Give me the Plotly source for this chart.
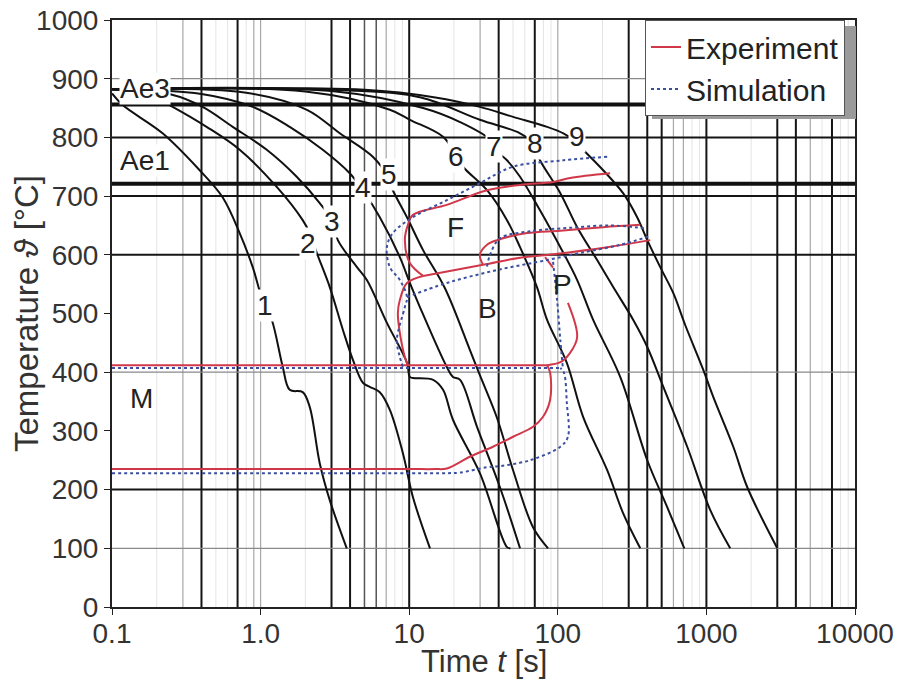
import numpy as np
import plotly.graph_objects as go

# ---------------- data (time in s, temperature in °C) ----------------
c1_t = [0.1, 0.118, 0.219, 0.389, 0.555, 0.723, 0.885, 1.03, 1.19, 1.41, 1.57, 1.92, 2.14, 2.50, 2.92, 3.80]
c1_T = [875, 855, 807, 744, 698, 637, 579, 523, 489, 409, 370, 366, 341, 245, 182, 100]
c2_t = [0.1, 0.18, 0.256, 0.433, 0.723, 1.28, 1.92, 2.14, 2.39, 2.92, 3.58, 4.18, 4.88, 5.43, 6.34, 7.41, 9.07, 10.6, 13.8]
c2_T = [882, 872, 852, 818, 779, 716, 659, 637, 603, 545, 472, 421, 382, 375, 366, 336, 262, 187, 100]
c3_t = [0.1, 0.25, 0.407, 0.649, 1.10, 1.75, 2.50, 3.06, 3.31, 4.45, 5.19, 7.08, 9.66, 10.1, 10.6, 14.5, 16.9, 19.7, 29.9, 45.5, 48]
c3_T = [882, 873, 852, 818, 779, 733, 688, 656, 625, 579, 557, 484, 416, 392, 390, 387, 370, 319, 228, 102, 100]
c4_t = [0.1, 0.4, 0.885, 1.57, 2.62, 3.98, 4.88, 6.34, 8.65, 10.1, 11.8, 17.9, 19.7, 22.0, 28.6, 40.8, 55.7]
c4_T = [882, 874, 852, 818, 779, 739, 710, 664, 596, 552, 511, 409, 392, 387, 307, 204, 100]
c5_t = [0.1, 0.8, 2.05, 3.41, 5.69, 7.18, 7.76, 9.66, 12.4, 17.4, 25.6, 29.9, 39.0, 50, 68.1, 86]
c5_T = [882, 876, 847, 807, 767, 733, 710, 664, 608, 543, 438, 395, 322, 233, 136, 100]
c6_t = [0.1, 2, 7.41, 10.1, 16.9, 20.9, 23.0, 33.4, 45.5, 55.7, 72.4, 84.7, 115, 148, 215, 275, 359]
c6_T = [882, 878, 847, 830, 801, 767, 750, 710, 659, 613, 545, 489, 416, 324, 233, 160, 100]
c7_t = [0.1, 3, 12.4, 22.0, 35.0, 37.8, 45.5, 55.7, 75.9, 104, 135, 173, 263, 400, 545, 710]
c7_T = [882, 879, 850, 826, 796, 779, 761, 733, 676, 613, 557, 489, 392, 250, 170, 100]
c8_t = [0.1, 4, 12, 29.9, 55.7, 68.1, 75.9, 104, 135, 184, 236, 322, 400, 513, 743, 1062, 1446]
c8_T = [882, 880, 868, 830, 807, 790, 761, 705, 647, 591, 545, 489, 443, 375, 273, 165, 100]
c9_t = [0.1, 5, 15, 29.9, 50, 84.7, 109, 127, 148, 202, 275, 342, 400, 489, 598, 721, 953, 1112, 1517, 1884, 3000]
c9_T = [882, 881, 868, 852, 835, 818, 807, 796, 779, 744, 705, 664, 625, 579, 535, 480, 404, 358, 273, 204, 100]

curves_t = [c1_t, c2_t, c3_t, c4_t, c5_t, c6_t, c7_t, c8_t, c9_t]
curves_T = [c1_T, c2_T, c3_T, c4_T, c5_T, c6_T, c7_T, c8_T, c9_T]
curve_labels = ["1", "2", "3", "4", "5", "6", "7", "8", "9"]
label_t = [1.07, 2.08, 3.01, 4.88, 7.3, 20.6, 37.2, 70.3, 135]
label_T = [514, 620, 656, 714, 736, 767, 784, 790, 801]

# Experiment (red)
e_ms_t = [0.1, 84.7]; e_ms_T = [412, 412]
e_low_t = [0.1, 1, 10, 15, 17.9, 25.6, 36.6, 50, 68.1, 79.6, 88.8, 88.8, 84.7]
e_low_T = [235, 235, 235, 235, 236, 256, 273, 290, 307, 324, 353, 399, 412]
e_pf_t = [84.7, 104, 121, 135, 117]; e_pf_T = [412, 417, 433, 460, 518]
e_bl_t = [12.4, 9.66, 8.65, 8.39, 8.65, 9.35, 9.8]
e_bl_T = [564, 552, 523, 501, 467, 426, 412]
e_bs_t = [12.4, 31.4, 55.7, 92.9, 215, 419]
e_bs_T = [564, 583, 595, 601, 613, 625]
e_f_t = [12.4, 10.1, 9.35, 9.8, 10.6, 17.9, 33.4, 55.7, 92.9, 121, 225]
e_f_T = [564, 586, 625, 651, 668, 685, 710, 719, 724, 731, 739]
e_p_t = [31.4, 29.9, 33.4, 39.0, 62.1, 104, 202, 359]
e_p_T = [583, 600, 617, 625, 637, 641, 647, 651]
e_tk_t = [82.1, 92.9]; e_tk_T = [596, 578]

# Simulation (blue dotted)
s_ms_t = [0.1, 104]; s_ms_T = [407, 407]
s_low_t = [0.1, 1, 10, 18, 22, 33.4, 40.8, 65, 104, 117, 115, 110, 104]
s_low_T = [228, 228, 228, 228, 229, 238, 240, 250, 273, 290, 348, 399, 407]
s_f_t = [215, 109, 50, 29.9, 17.9, 10.6, 7.76, 7.08, 7.41, 8.65, 9.66, 9.35, 8.26, 8.65, 9.07]
s_f_T = [767, 761, 750, 722, 693, 664, 637, 613, 579, 557, 528, 511, 455, 426, 409]
s_bs_t = [9.66, 17.9, 39, 84.7, 141, 263, 419]
s_bs_T = [528, 552, 574, 591, 603, 617, 632]
s_p_t = [33.4, 35, 40.8, 64.9, 121, 225, 387]
s_p_T = [580, 600, 628, 640, 646, 650, 645]
s_pv_t = [92.9, 98.9, 104, 108]; s_pv_T = [588, 523, 455, 409]

# equilibrium temperatures
ae3_T = 856
ae1_T = 721

# grid
vgrid_black = [0.4, 0.7, 3, 4, 10, 40, 70, 300, 400, 500, 1000, 3000, 4000, 7000]
vgrid_mid = [5, 6]
vgrid_gray = [0.3, 0.9, 1, 7, 30, 100, 600, 700, 5000]
vgrid_light = [0.2, 0.5, 0.6, 0.8, 2, 8, 9, 20, 50, 60, 80, 90, 200, 800, 900, 2000, 6000, 8000, 9000]
hgrid_black = [200, 600, 700, 800]
hgrid_gray = [100, 400, 900]

xtick_vals = [0.1, 1, 10, 100, 1000, 10000]
xtick_text = ["0.1", "1.0", "10", "100", "1000", "10000"]
ytick_vals = list(range(0, 1001, 100))

FONT = "Liberation Sans, Arial, sans-serif"
RED = "#d0384a"
BLUE = "#3a4fa0"

# page body has an 8px margin: figure is 895x677 so the screenshot is 903x685
W, H = 895, 677
ML, MR, MT, MB = 104, 48, 12, 78
PW, PH = W - ML - MR, H - MT - MB

fig = go.Figure()


def vlines(vals):
    xs, ys = [], []
    for v in vals:
        xs += [v, v, None]
        ys += [0, 1000, None]
    return xs, ys


def hlines(vals, x0=0.1, x1=10000):
    xs, ys = [], []
    for v in vals:
        xs += [x0, x1, None]
        ys += [v, v, None]
    return xs, ys


for vals, col, w in [(vgrid_light, "#e4e4e4", 1), (vgrid_gray, "#a8a8a8", 1.2),
                     (vgrid_mid, "#555555", 1.5), (vgrid_black, "#151515", 2)]:
    xs, ys = vlines(vals)
    fig.add_trace(go.Scatter(x=xs, y=ys, mode="lines", line=dict(color=col, width=w),
                             showlegend=False, hoverinfo="skip"))
for vals, col, w in [(hgrid_gray, "#8a8a8a", 1.2), (hgrid_black, "#151515", 2)]:
    xs, ys = hlines(vals)
    fig.add_trace(go.Scatter(x=xs, y=ys, mode="lines", line=dict(color=col, width=w),
                             showlegend=False, hoverinfo="skip"))

# Ae3 / Ae1 thick lines
for T in [ae3_T, ae1_T]:
    fig.add_trace(go.Scatter(x=[0.1, 10000], y=[T, T], mode="lines",
                             line=dict(color="#111111", width=4),
                             showlegend=False, hoverinfo="skip"))

# cooling curves
for t, T in zip(curves_t, curves_T):
    fig.add_trace(go.Scatter(x=t, y=T, mode="lines", line=dict(color="#111111", width=2),
                             line_shape="spline", showlegend=False, hoverinfo="skip"))

# experiment
exp_sets = [(e_ms_t, e_ms_T), (e_low_t, e_low_T), (e_pf_t, e_pf_T), (e_bl_t, e_bl_T),
            (e_bs_t, e_bs_T), (e_f_t, e_f_T), (e_p_t, e_p_T), (e_tk_t, e_tk_T)]
for i, (t, T) in enumerate(exp_sets):
    fig.add_trace(go.Scatter(x=t, y=T, mode="lines", line=dict(color=RED, width=2),
                             line_shape="spline", name="Experiment", legendgroup="exp",
                             showlegend=(i == 0), hoverinfo="skip"))
# simulation
sim_sets = [(s_ms_t, s_ms_T), (s_low_t, s_low_T), (s_f_t, s_f_T), (s_bs_t, s_bs_T),
            (s_p_t, s_p_T), (s_pv_t, s_pv_T)]
for i, (t, T) in enumerate(sim_sets):
    fig.add_trace(go.Scatter(x=t, y=T, mode="lines", line=dict(color=BLUE, width=2, dash="dot"),
                             line_shape="spline", name="Simulation", legendgroup="sim",
                             showlegend=(i == 0), hoverinfo="skip"))

annotations = []
for lab, t, T in zip(curve_labels, label_t, label_T):
    annotations.append(dict(x=np.log10(t), y=T, text=lab, showarrow=False,
                            font=dict(size=28, color="#222222", family=FONT),
                            bgcolor="white", borderpad=0))
annotations.append(dict(x=np.log10(0.166), y=884, text="Ae3", showarrow=False,
                        font=dict(size=28, color="#222222", family=FONT), bgcolor="white", borderpad=0))
annotations.append(dict(x=np.log10(0.166), y=761, text="Ae1", showarrow=False,
                        font=dict(size=28, color="#222222", family=FONT), bgcolor="white", borderpad=0))
for lab, t, T in [("F", 20.6, 646), ("B", 33.4, 509), ("P", 107, 549), ("M", 0.158, 356)]:
    annotations.append(dict(x=np.log10(t), y=T, text=lab, showarrow=False,
                            font=dict(size=28, color="#222222", family=FONT)))

# x-axis title (placed as paper annotation)
annotations.append(dict(xref="paper", yref="paper", x=0.5, y=-(661 - 8 - (MT + PH)) / PH,
                        xanchor="center", yanchor="middle", showarrow=False,
                        text="Time <i>t</i> [s]", font=dict(size=31, color="#333333", family=FONT)))


def px_x(p):  # screenshot x pixel -> paper fraction
    return (p - 8 - ML) / PW


def px_y(p):  # screenshot y pixel -> paper fraction
    return (MT + PH - (p - 8)) / PH


# legend shadow
shapes = [dict(type="rect", xref="paper", yref="paper",
               x0=px_x(652), x1=px_x(856), y0=px_y(119), y1=px_y(26),
               fillcolor="#9a9a9a", line=dict(width=0), layer="above")]

fig.update_layout(
    width=W, height=H,
    margin=dict(l=ML, r=MR, t=MT, b=MB),
    paper_bgcolor="white", plot_bgcolor="white",
    font=dict(family=FONT, size=28, color="#333333"),
    annotations=annotations,
    shapes=shapes,
    legend=dict(x=px_x(645), y=1.0, xanchor="left", yanchor="top",
                bgcolor="white", bordercolor="#555555", borderwidth=1,
                font=dict(size=30, color="#222222", family=FONT),
                tracegroupgap=0, itemwidth=30),
    xaxis=dict(type="log", range=[-1, 4], showgrid=False, zeroline=False, automargin=False,
               showline=True, linecolor="#222222", linewidth=2, mirror=True,
               ticks="outside", ticklen=6, tickcolor="#222222",
               tickvals=xtick_vals, ticktext=xtick_text, ticklabelstandoff=-6,
               ticklabeloverflow="allow",
               tickfont=dict(size=28, color="#333333")),
    yaxis=dict(range=[0, 1000], showgrid=False, zeroline=False, automargin=False,
               showline=True, linecolor="#222222", linewidth=2, mirror=True,
               ticks="outside", ticklen=6, tickcolor="#222222",
               tickvals=ytick_vals, tickfont=dict(size=28, color="#333333"),
               ticklabeloverflow="allow",
               title=dict(text="Temperature <i>ϑ</i> [°C]", font=dict(size=33, color="#333333"), standoff=3)),
)

fig.write_html("out.html")
